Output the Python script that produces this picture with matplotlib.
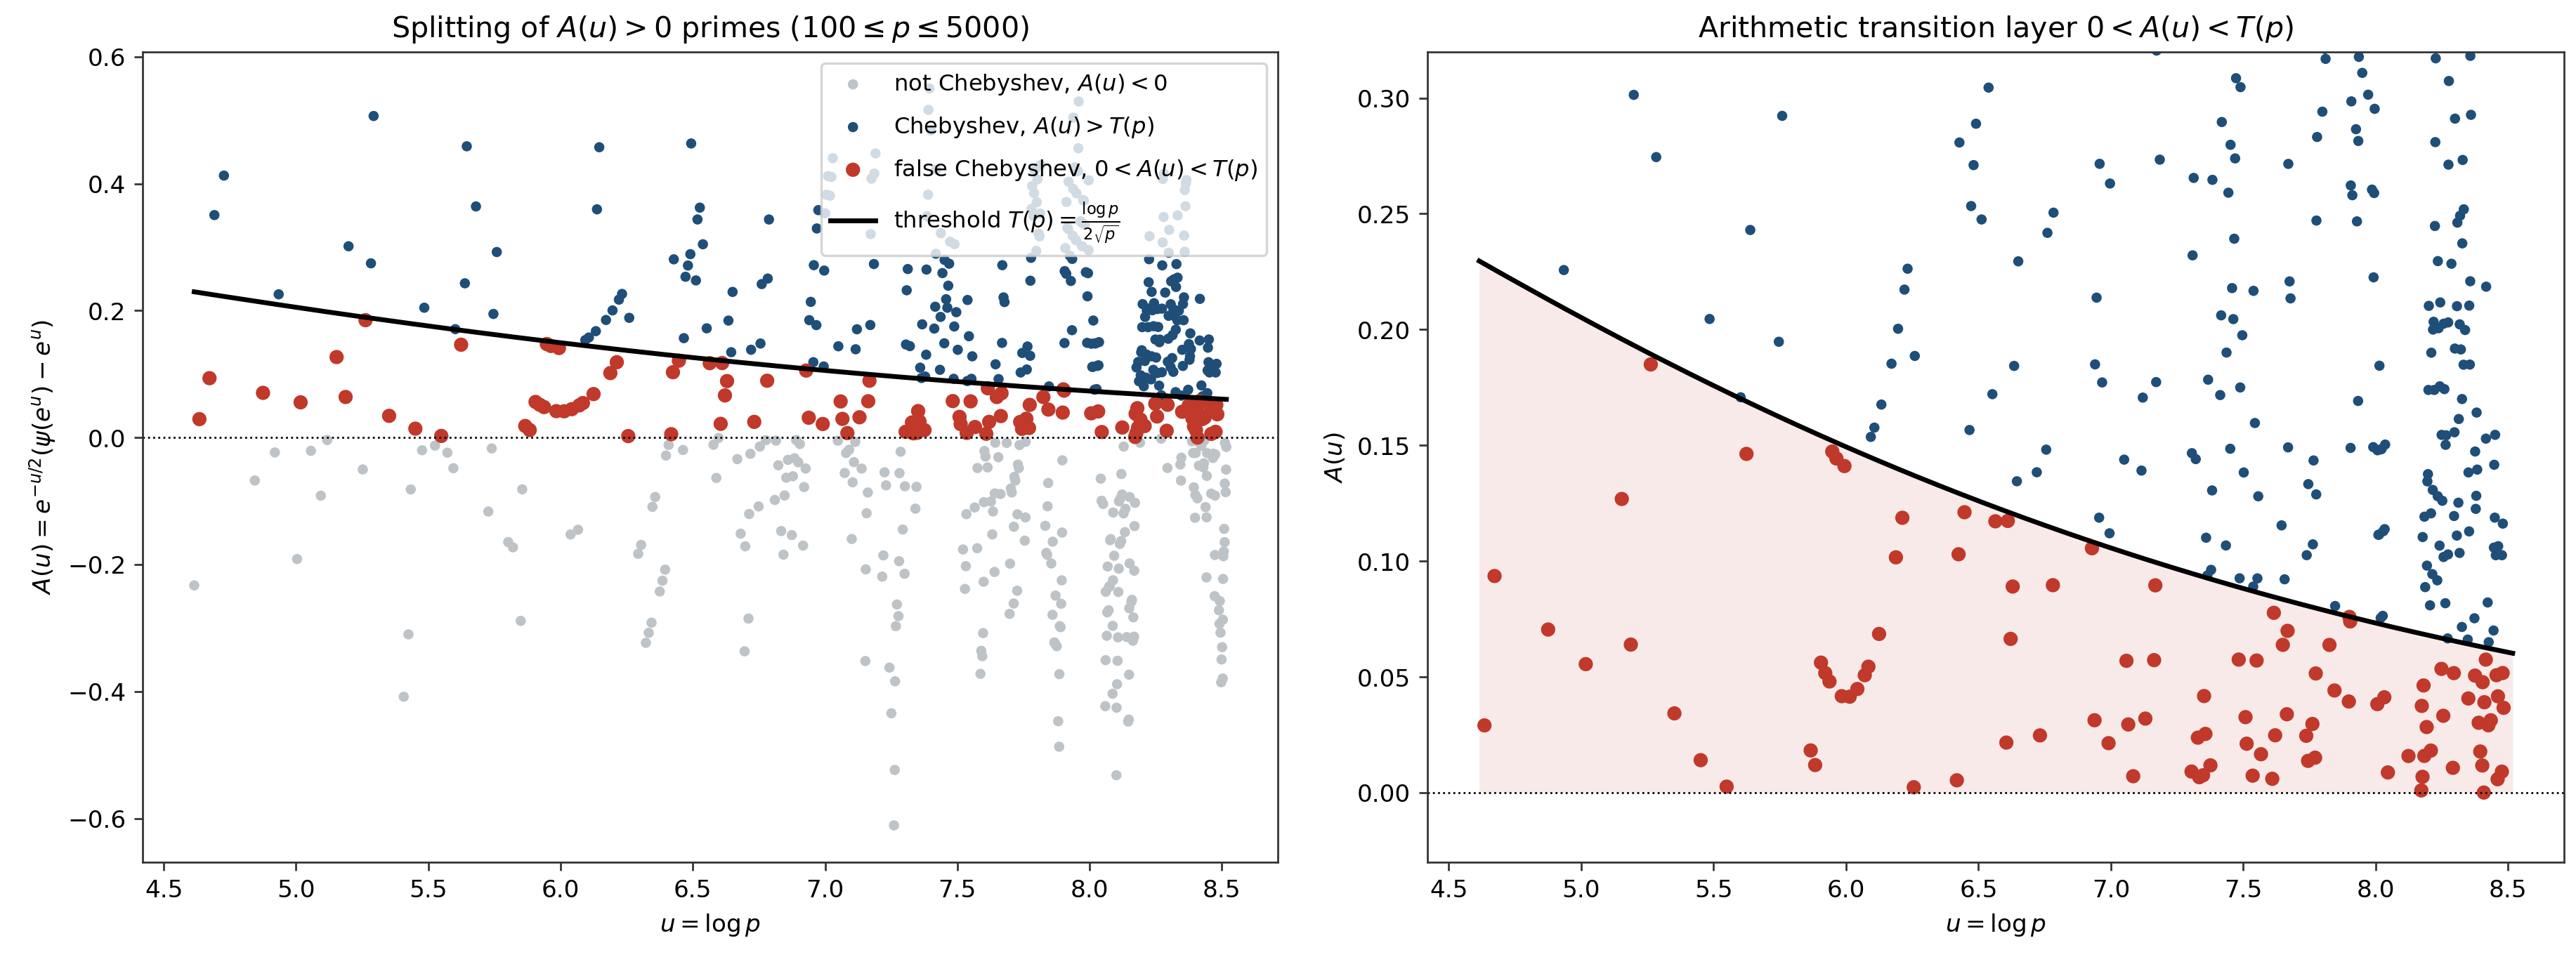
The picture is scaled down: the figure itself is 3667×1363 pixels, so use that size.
import numpy as np
import matplotlib
matplotlib.use("Agg")
import matplotlib.pyplot as plt

# prime range shown in the chart
P_MIN = 100
P_MAX = 5000

# colours
GRAY = "#bdc3c7"
BLUE = "#1f4e79"
RED = "#c0392b"


def von_mangoldt_psi(n_max):
    # psi(n) = sum of log q over prime powers q^k <= n
    sieve = np.ones(n_max + 1, dtype=bool)
    sieve[:2] = False
    for i in range(2, int(n_max ** 0.5) + 1):
        if sieve[i]:
            sieve[i * i::i] = False
    lam = np.zeros(n_max + 1)
    for q in np.nonzero(sieve)[0]:
        qk = q
        while qk <= n_max:
            lam[qk] = np.log(q)
            qk *= q
    return sieve, np.cumsum(lam)


is_prime, psi = von_mangoldt_psi(P_MAX)
primes = np.array([p for p in range(P_MIN, P_MAX + 1) if is_prime[p]])
u_vals = np.log(primes)
a_vals = (psi[primes] - primes) / np.sqrt(primes)
threshold = np.log(primes) / (2 * np.sqrt(primes))

neg = a_vals < 0
cheb = a_vals > threshold
false_cheb = (a_vals > 0) & (a_vals < threshold)


def main():
    dpi = 247
    fig = plt.figure(figsize=(3667.4 / dpi, 1363.4 / dpi), dpi=dpi)
    ax1 = fig.add_axes([0.05536, 0.09905, 0.44069, 0.84666])
    ax2 = fig.add_axes([0.55413, 0.09905, 0.44123, 0.84666])

    # left: all primes split into three groups
    ax1.scatter(u_vals[neg], a_vals[neg], s=18, color=GRAY, edgecolors="none",
                label=r"not Chebyshev, $A(u)<0$")
    ax1.scatter(u_vals[cheb], a_vals[cheb], s=18, color=BLUE, edgecolors="none",
                label=r"Chebyshev, $A(u)>T(p)$")
    ax1.scatter(u_vals[false_cheb], a_vals[false_cheb], s=35, color=RED, edgecolors="none",
                label=r"false Chebyshev, $0<A(u)<T(p)$")
    ax1.plot(u_vals, threshold, color="black", lw=2,
             label=r"threshold $T(p)=\frac{\log p}{2\sqrt{p}}$")
    ax1.axhline(0, color="black", lw=0.8, ls=":")
    ax1.set_xlabel(r"$u=\log p$")
    ax1.set_ylabel(r"$A(u)=e^{-u/2}(\psi(e^u)-e^u)$")
    ax1.set_title(r"Splitting of $A(u)>0$ primes ($100\leq p\leq 5000$)")
    ax1.legend(loc="upper right", fontsize=9.4, labelspacing=0.8)

    # right: zoom on the layer between 0 and T(p)
    ax2.fill_between(u_vals, 0, threshold, color=RED, alpha=0.1, lw=0)
    ax2.scatter(u_vals[cheb], a_vals[cheb], s=18, color=BLUE, edgecolors="none")
    ax2.scatter(u_vals[false_cheb], a_vals[false_cheb], s=35, color=RED, edgecolors="none")
    ax2.plot(u_vals, threshold, color="black", lw=2)
    ax2.axhline(0, color="black", lw=0.8, ls=":")
    ax2.set_ylim(-0.03, 0.32)
    ax2.set_xlabel(r"$u=\log p$")
    ax2.set_ylabel(r"$A(u)$")
    ax2.set_title(r"Arithmetic transition layer $0<A(u)<T(p)$")

    for ax in (ax1, ax2):
        for sp in ax.spines.values():
            sp.set_color("#333333")
        ax.tick_params(color="#333333")

    fig.savefig("out.png", dpi=dpi)


if __name__ == "__main__":
    main()
